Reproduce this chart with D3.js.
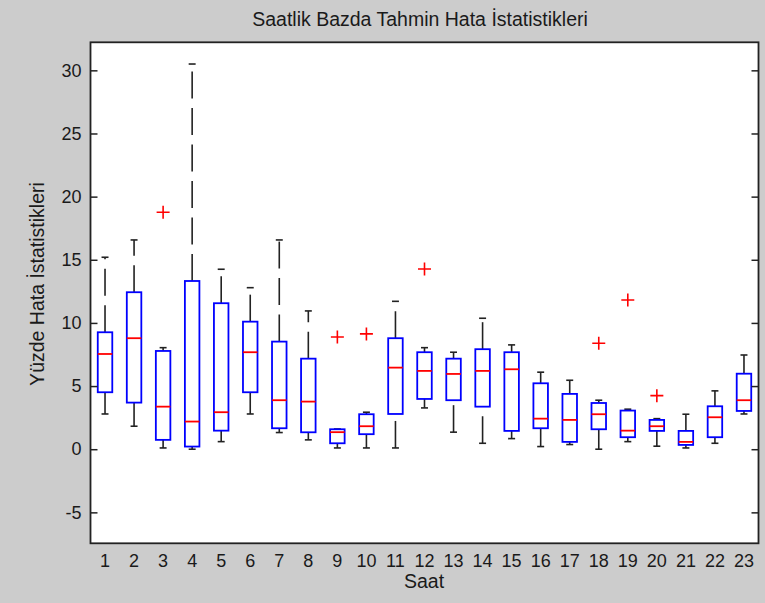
<!DOCTYPE html>
<html>
<head>
<meta charset="utf-8">
<script src="https://cdn.jsdelivr.net/npm/d3@7"></script>
<style>
    body { margin: 0; background: #cccccc; }
    svg { display: block; font-family: "Liberation Sans", Arial, sans-serif; }
</style>
</head>
<body>
<svg id="SVG1" width="765" height="603"></svg>
<script>
// hours on the x axis
var hours = [1, 2, 3, 4, 5, 6, 7, 8, 9, 10, 11, 12, 13, 14, 15, 16, 17, 18, 19, 20, 21, 22, 23];

// box statistics (percent)
var whiskerLow = [2.79, 1.82, 0.10, 0.00, 0.60, 2.79, 1.32, 0.74, 0.10, 0.10, 0.10, 3.27, 1.35, 0.47, 0.84, 0.21, 0.37, 0.00, 0.60, 0.24, 0.10, 0.47, 2.79];
var q1 = [4.51, 3.69, 0.74, 0.21, 1.47, 4.51, 1.66, 1.34, 0.47, 1.19, 2.79, 3.98, 3.88, 3.37, 1.45, 1.66, 0.58, 1.58, 0.95, 1.45, 0.34, 0.95, 3.03];
var medians = [7.54, 8.79, 3.37, 2.19, 2.93, 7.68, 3.88, 3.77, 1.35, 1.82, 6.46, 6.20, 5.96, 6.20, 6.33, 2.42, 2.32, 2.77, 1.47, 1.82, 0.58, 2.53, 3.88];
var q3 = [9.26, 12.43, 7.78, 13.32, 11.56, 10.10, 8.52, 7.17, 1.58, 2.77, 8.79, 7.68, 7.17, 7.92, 7.68, 5.22, 4.38, 3.66, 3.06, 2.32, 1.45, 3.40, 5.98];
var whiskerHigh = [15.20, 16.57, 8.04, 30.50, 14.25, 12.79, 16.57, 10.95, 1.60, 2.93, 11.71, 8.04, 7.68, 10.37, 8.26, 6.10, 5.46, 3.88, 3.17, 2.42, 2.77, 4.62, 7.46];

// outliers: hour and value
var outlierHours = [3, 9, 10, 12, 18, 19, 20];
var outlierValues = [18.76, 8.89, 9.13, 14.27, 8.39, 11.82, 4.24];

var yTicks = [-5, 0, 5, 10, 15, 20, 25, 30];

var titleText = "Saatlik Bazda Tahmin Hata İstatistikleri";
var xLabel = "Saat";
var yLabel = "Yüzde Hata İstatistikleri";

DrawBoxPlot();

function DrawBoxPlot() {
    var svg = d3.select('#SVG1');
    var g = svg.append("g");

    var left = 90.5, right = 758.5, top = 42.3, bottom = 543.3;

    var x = d3.scaleLinear()
        .domain([0.5, 23.5])
        .range([left, right]);

    var y = d3.scaleLinear()
        .domain([-7.45, 32.22])
        .range([bottom, top]);

    var boxHalf = 0.25;   // box width 0.5
    var capHalf = 0.12;

    // plot area
    g.append("rect")
        .attr("x", left)
        .attr("y", top)
        .attr("width", right - left)
        .attr("height", bottom - top)
        .attr("fill", "white");

    var boxes = hours.map(function (h, i) {
        return { hour: h, lo: whiskerLow[i], q1: q1[i], med: medians[i], q3: q3[i], hi: whiskerHigh[i] };
    });

    // whiskers (dashed, drawn from the lower end upward)
    g.selectAll(".whiskerUp")
        .data(boxes)
        .enter().append("line")
        .attr("x1", function (d) { return x(d.hour); })
        .attr("x2", function (d) { return x(d.hour); })
        .attr("y1", function (d) { return y(d.q3); })
        .attr("y2", function (d) { return y(d.hi); })
        .attr("stroke", "#222")
        .attr("stroke-width", 1.6)
        .attr("stroke-dasharray", "27,9.5");

    g.selectAll(".whiskerDown")
        .data(boxes)
        .enter().append("line")
        .attr("x1", function (d) { return x(d.hour); })
        .attr("x2", function (d) { return x(d.hour); })
        .attr("y1", function (d) { return y(d.lo); })
        .attr("y2", function (d) { return y(d.q1); })
        .attr("stroke", "#222")
        .attr("stroke-width", 1.6)
        .attr("stroke-dasharray", "27,9.5");

    // whisker caps
    ["lo", "hi"].forEach(function (k) {
        g.selectAll(".cap" + k)
            .data(boxes)
            .enter().append("line")
            .attr("x1", function (d) { return x(d.hour - capHalf); })
            .attr("x2", function (d) { return x(d.hour + capHalf); })
            .attr("y1", function (d) { return y(d[k]); })
            .attr("y2", function (d) { return y(d[k]); })
            .attr("stroke", "#222")
            .attr("stroke-width", 1.6);
    });

    // boxes
    g.selectAll(".box")
        .data(boxes)
        .enter().append("rect")
        .attr("x", function (d) { return x(d.hour - boxHalf); })
        .attr("y", function (d) { return y(d.q3); })
        .attr("width", function (d) { return x(d.hour + boxHalf) - x(d.hour - boxHalf); })
        .attr("height", function (d) { return y(d.q1) - y(d.q3); })
        .attr("fill", "none")
        .attr("stroke", "#0000ff")
        .attr("stroke-width", 1.8);

    // medians
    g.selectAll(".median")
        .data(boxes)
        .enter().append("line")
        .attr("x1", function (d) { return x(d.hour - boxHalf); })
        .attr("x2", function (d) { return x(d.hour + boxHalf); })
        .attr("y1", function (d) { return y(d.med); })
        .attr("y2", function (d) { return y(d.med); })
        .attr("stroke", "#ff0000")
        .attr("stroke-width", 1.8);

    // outliers as red plus signs
    var outliers = outlierHours.map(function (h, i) { return { hour: h, value: outlierValues[i] }; });
    g.selectAll(".outlier")
        .data(outliers)
        .enter().append("path")
        .attr("d", function (d) {
            var cx = x(d.hour), cy = y(d.value);
            return "M" + (cx - 6.5) + "," + cy + "H" + (cx + 6.5) + "M" + cx + "," + (cy - 6.5) + "V" + (cy + 6.5);
        })
        .attr("stroke", "#ff0000")
        .attr("stroke-width", 1.6)
        .attr("fill", "none");

    // axes: ticks point inward, left and right only
    var yAxisLeft = d3.axisLeft(y).tickValues(yTicks).tickSizeInner(-7).tickSizeOuter(0).tickPadding(9)
        .tickFormat(function (d) { return String(d); });   // plain hyphen for -5
    var yAxisRight = d3.axisRight(y).tickValues(yTicks).tickSizeInner(-7).tickSizeOuter(0).tickFormat("");

    var gl = g.append("g").attr("transform", "translate(" + left + ",0)").call(yAxisLeft);
    var gr = g.append("g").attr("transform", "translate(" + right + ",0)").call(yAxisRight);
    [gl, gr].forEach(function (a) {
        a.select(".domain").remove();
        a.selectAll("line").attr("stroke", "#222").attr("stroke-width", 1.5);
    });
    gl.selectAll("text")
        .style("font-size", "18px")
        .attr("fill", "#1a1a1a")
        .style("font-family", "Liberation Sans, Arial, sans-serif");

    // frame
    g.append("rect")
        .attr("x", left)
        .attr("y", top)
        .attr("width", right - left)
        .attr("height", bottom - top)
        .attr("fill", "none")
        .attr("stroke", "#222")
        .attr("stroke-width", 1.8);

    // hour labels below the plot
    g.selectAll(".hourLabel")
        .data(hours)
        .enter().append("text")
        .attr("x", function (d) { return x(d); })
        .attr("y", 567)
        .attr("text-anchor", "middle")
        .style("font-size", "18px")
        .attr("fill", "#1a1a1a")
        .text(function (d) { return d; });

    // title and axis labels
    g.append("text")
        .attr("x", 420)
        .attr("y", 26)
        .attr("text-anchor", "middle")
        .style("font-size", "19.5px")
        .attr("fill", "#1a1a1a")
        .text(titleText);

    g.append("text")
        .attr("x", 424)
        .attr("y", 588)
        .attr("text-anchor", "middle")
        .style("font-size", "19.5px")
        .attr("fill", "#1a1a1a")
        .text(xLabel);

    g.append("text")
        .attr("transform", "translate(44,284) rotate(-90)")
        .attr("text-anchor", "middle")
        .style("font-size", "19.5px")
        .attr("fill", "#1a1a1a")
        .text(yLabel);
}
</script>
</body>
</html>
